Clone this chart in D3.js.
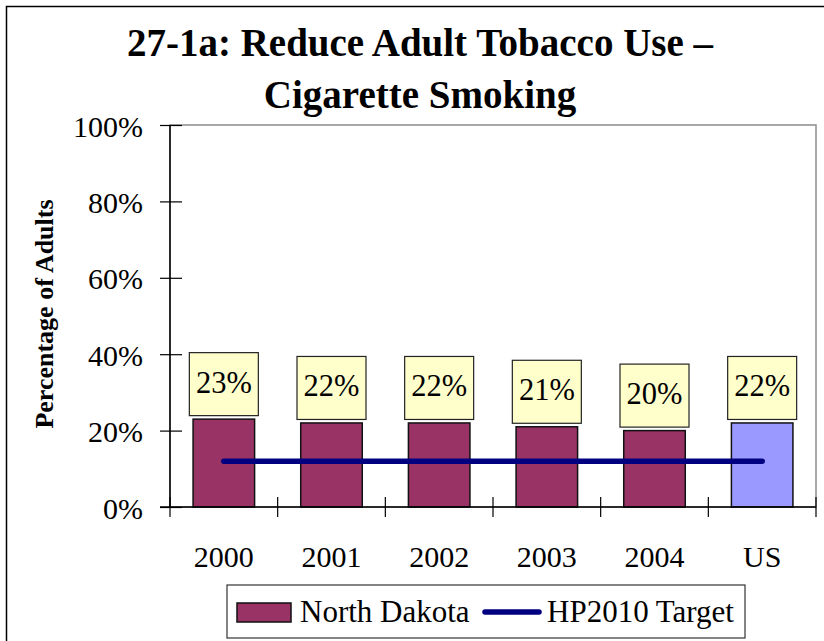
<!DOCTYPE html>
<html>
<head>
<meta charset="utf-8">
<script src="https://cdn.jsdelivr.net/npm/d3@7"></script>
<style>
  html, body { margin: 0; padding: 0; background: #fff; }
  svg { display: block; }
  svg text { font-family: "Liberation Serif", "Times New Roman", serif !important; }
</style>
</head>
<body>
<svg id="chart" width="824" height="641"></svg>
<script>
// ---- Data ----
const categories = ["2000", "2001", "2002", "2003", "2004", "US"];
const values = [23, 22, 22, 21, 20, 22];
const targetValues = [12, 12, 12, 12, 12, 12];
const yTicks = [0, 20, 40, 60, 80, 100];
const titleLines = ["27-1a: Reduce Adult Tobacco Use \u2013", "Cigarette Smoking"];
const yAxisTitle = "Percentage of Adults";
const seriesNames = ["North Dakota", "HP2010 Target"];

// ---- Layout ----
const svg = d3.select("#chart");
const pL = 170, pR = 816, pT = 125, pB = 507;

const x = d3.scaleBand().domain(categories).range([pL, pR]).paddingInner(0).paddingOuter(0);
const y = d3.scaleLinear().domain([0, 100]).range([pB, pT]);
const barW = x.bandwidth() / 1.75;

// outer frame
svg.append("rect").attr("x", 6.5).attr("y", 6.5).attr("width", 840).attr("height", 660)
  .attr("fill", "none").attr("stroke", "#000").attr("stroke-width", 1.5);

// title
svg.append("g").selectAll("text").data(titleLines).join("text")
  .attr("x", 420).attr("y", (d, i) => i === 0 ? 56 : 108)
  .attr("text-anchor", "middle").attr("font-weight", "bold").attr("font-size", 39)
  .text(d => d);

// plot area border (top/right grey)
svg.append("rect").attr("x", pL).attr("y", pT).attr("width", pR - pL).attr("height", pB - pT)
  .attr("fill", "none").attr("stroke", "#8c8c8c").attr("stroke-width", 1.5);

// bars
svg.append("g").selectAll("rect").data(values).join("rect")
  .attr("x", (d, i) => x(categories[i]) + (x.bandwidth() - barW) / 2)
  .attr("y", d => y(d))
  .attr("width", barW)
  .attr("height", d => y(0) - y(d))
  .attr("fill", (d, i) => categories[i] === "US" ? "#9999FF" : "#993366")
  .attr("stroke", "#111").attr("stroke-width", 1.5);

// target line
const line = d3.line()
  .x((d, i) => x(categories[i]) + x.bandwidth() / 2)
  .y(d => y(d));
svg.append("path").datum(targetValues).attr("d", line)
  .attr("fill", "none").attr("stroke", "#000080").attr("stroke-width", 5.5)
  .attr("stroke-linecap", "round");

// y axis
const yAxis = d3.axisLeft(y).tickValues(yTicks).tickFormat(d => d + "%").tickSize(10).tickPadding(17);
const gy = svg.append("g").attr("transform", `translate(${pL},0)`).call(yAxis);
gy.select(".domain").attr("stroke", "#000").attr("stroke-width", 1.5).attr("d", `M0,${pT}V${pB}`);
gy.selectAll(".tick line").attr("x1", 12).attr("stroke", "#000").attr("stroke-width", 1.2);
gy.selectAll(".tick text").attr("font-size", 30).attr("fill", "#000").attr("dy", 11);

// x axis
const xAxis = d3.axisBottom(x).tickSize(0).tickPadding(0);
const gx = svg.append("g").attr("transform", `translate(0,${pB})`).call(xAxis);
gx.select(".domain").attr("stroke", "#000").attr("stroke-width", 1.5).attr("d", `M${pL - 10},0H${pR}`);
gx.selectAll(".tick text").attr("font-size", 30).attr("fill", "#000").attr("dy", 0).attr("y", 60);
// x tick marks at band boundaries
const bounds = categories.map(c => x(c)).concat([x(categories[categories.length - 1]) + x.bandwidth()]);
svg.append("g").selectAll("line").data(bounds).join("line")
  .attr("x1", d => d).attr("x2", d => d).attr("y1", pB - 10).attr("y2", pB + 10)
  .attr("stroke", "#000").attr("stroke-width", 1.2);

// data labels
const lbl = svg.append("g").selectAll("g").data(values).join("g")
  .attr("transform", (d, i) => `translate(${x(categories[i]) + x.bandwidth() / 2},${y(d) - 3.5})`);
lbl.append("rect").attr("x", -34.5).attr("y", -63).attr("width", 69).attr("height", 63)
  .attr("fill", "#FFFFCC").attr("stroke", "#222").attr("stroke-width", 1.2);
lbl.append("text").attr("x", 0).attr("y", -23).attr("text-anchor", "middle")
  .attr("font-size", 30.5).text(d => d + "%");

// y axis title
svg.append("text").attr("transform", "translate(53,314) rotate(-90)")
  .attr("text-anchor", "middle").attr("font-weight", "bold").attr("font-size", 26)
  .text(yAxisTitle);

// legend
const lg = svg.append("g");
lg.append("rect").attr("x", 227).attr("y", 585).attr("width", 518).attr("height", 53)
  .attr("fill", "#fff").attr("stroke", "#333").attr("stroke-width", 1.2);
lg.append("rect").attr("x", 237).attr("y", 603).attr("width", 54).attr("height", 19)
  .attr("fill", "#993366").attr("stroke", "#111").attr("stroke-width", 1.5);
lg.append("text").attr("x", 300).attr("y", 622).attr("font-size", 31).text(seriesNames[0]);
lg.append("line").attr("x1", 485).attr("x2", 539).attr("y1", 612).attr("y2", 612)
  .attr("stroke", "#000080").attr("stroke-width", 5.5).attr("stroke-linecap", "round");
lg.append("text").attr("x", 547).attr("y", 622).attr("font-size", 31).text(seriesNames[1]);
</script>
</body>
</html>
